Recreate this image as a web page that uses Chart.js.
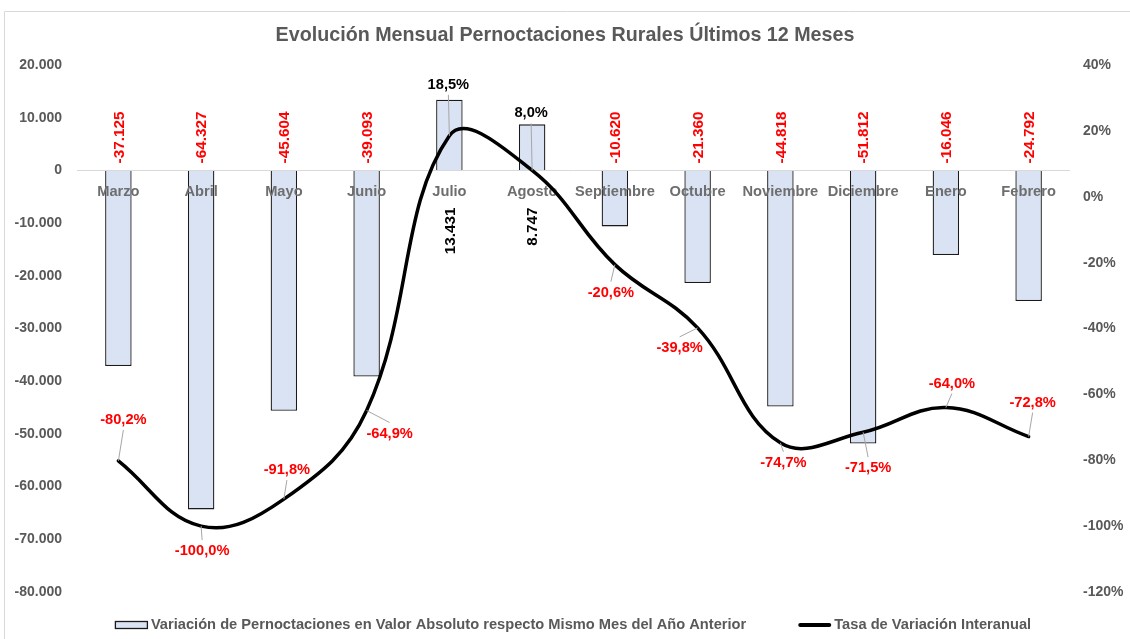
<!DOCTYPE html>
<html><head><meta charset="utf-8">
<script src="https://cdn.jsdelivr.net/npm/chart.js@4"></script>
<style>html,body{margin:0;padding:0;background:#fff}#wrap{width:1130px;height:639px}</style>
</head><body><div id="wrap"><canvas id="c" width="1130" height="639"></canvas></div>
<script>
const categories = ['Marzo','Abril','Mayo','Junio','Julio','Agosto','Septiembre','Octubre','Noviembre','Diciembre','Enero','Febrero'];
const absoluteVariation = [-37125,-64327,-45604,-39093,13431,8747,-10620,-21360,-44818,-51812,-16046,-24792];
const yearOnYearRate = [-80.2,-100.0,-91.8,-64.9,18.5,8.0,-20.6,-39.8,-74.7,-71.5,-64.0,-72.8];
const leftAxisRange = [-80000, 20000, 10000];
const rightAxisRange = [-120, 40, 20];
const seriesNames = ['Variación de Pernoctaciones en Valor Absoluto respecto Mismo Mes del Año Anterior','Tasa de Variación Interanual'];
const titleText = 'Evolución Mensual Pernoctaciones Rurales Últimos 12 Meses';
// label placement offsets in px (text centre relative to point)
const rateLabelOffsets = [[5,-41],[1,25],[3,-29],[23,23],[-1,-51],[-1,-57],[-4,28],[-18,20],[3,20],[5,36],[6,-24],[4,-34]];

const FONT = '"Liberation Sans", Arial, sans-serif';
const fmtInt = v => { const s = Math.abs(Math.round(v)).toString().replace(/\B(?=(\d{3})+(?!\d))/g,'.'); return (v<0?'-':'')+s; };
const fmtPct = v => v.toFixed(1).replace('.',',')+'%';

const decor = {
  id:'decor',
  beforeDraw(chart){
    const ctx=chart.ctx; ctx.save();
    ctx.fillStyle='#fff'; ctx.fillRect(0,0,chart.width,chart.height);
    ctx.strokeStyle='#d9d9d9'; ctx.lineWidth=1; ctx.beginPath();
    ctx.moveTo(4.5,chart.height); ctx.lineTo(4.5,11.5); ctx.lineTo(chart.width,11.5); ctx.stroke();
    ctx.restore();
  },
  afterDatasetDraw(chart,args){
    if(args.index!==0) return;
    const ctx=chart.ctx, x=chart.scales.x, y0=chart.scales.y.getPixelForValue(0);
    ctx.save(); ctx.font='bold 14.67px '+FONT; ctx.fillStyle='#6e6e6e';
    ctx.textAlign='center'; ctx.textBaseline='middle';
    categories.forEach((c,i)=>ctx.fillText(c, x.getPixelForValue(i), y0+22));
    ctx.restore();
  },
  afterDatasetsDraw(chart){
    const ctx=chart.ctx, x=chart.scales.x, y0=chart.scales.y.getPixelForValue(0);
    ctx.save();
    ctx.textBaseline='middle';
    ctx.font='bold 15.3px '+FONT;
    absoluteVariation.forEach((v,i)=>{
      const px=x.getPixelForValue(i);
      ctx.save();
      ctx.fillStyle = v<0 ? '#ff0000' : '#000000';
      if(v<0){ ctx.translate(px+1, y0-7); ctx.rotate(-Math.PI/2); ctx.textAlign='left'; }
      else { ctx.translate(px+1, y0+37); ctx.rotate(-Math.PI/2); ctx.textAlign='right'; }
      ctx.fillText(fmtInt(v),0,0);
      ctx.restore();
    });
    ctx.font='bold 14.67px '+FONT;
    const meta=chart.getDatasetMeta(1);
    meta.data.forEach((pt,i)=>{
      const [dx,dy]=rateLabelOffsets[i];
      const cx=pt.x+dx, cy=pt.y+dy;
      const ey = dy<0 ? cy+10 : cy-11;
      ctx.strokeStyle='#a6a6a6'; ctx.lineWidth=1;
      ctx.beginPath(); ctx.moveTo(pt.x,pt.y); ctx.lineTo(cx,ey); ctx.stroke();
    });
    meta.data.forEach((pt,i)=>{
      const v=yearOnYearRate[i], [dx,dy]=rateLabelOffsets[i];
      ctx.fillStyle = v<0 ? '#ff0000' : '#000000';
      ctx.textAlign='center';
      ctx.fillText(fmtPct(v), pt.x+dx, pt.y+dy);
    });
    ctx.restore();
  },
  afterDraw(chart){
    const ctx=chart.ctx; ctx.save();
    ctx.font='bold 14.67px '+FONT; ctx.textBaseline='middle'; ctx.textAlign='left';
    const w1=ctx.measureText(seriesNames[0]).width, w2=ctx.measureText(seriesNames[1]).width;
    const sw=33, gap=3, itemGap=52;
    const total=sw+gap+w1+itemGap+sw+gap+w2;
    let xx=573-total/2; const yy=625;
    ctx.fillStyle='#dae3f3'; ctx.strokeStyle='#1a1a1a'; ctx.lineWidth=1.3;
    ctx.fillRect(xx,yy-4,sw,8); ctx.strokeRect(xx+0.5,yy-3.5,sw-1,7);
    ctx.fillStyle='#595959'; ctx.fillText(seriesNames[0], xx+sw+gap, yy);
    xx += sw+gap+w1+itemGap;
    ctx.strokeStyle='#000'; ctx.lineWidth=4; ctx.lineCap='round';
    ctx.beginPath(); ctx.moveTo(xx+2,yy); ctx.lineTo(xx+sw-2,yy); ctx.stroke();
    ctx.fillStyle='#595959'; ctx.fillText(seriesNames[1], xx+sw+gap, yy);
    ctx.restore();
  }
};

new Chart(document.getElementById('c'), {
  type:'bar',
  data:{
    labels:categories,
    datasets:[
      {type:'bar', label:seriesNames[0], data:absoluteVariation, yAxisID:'y', order:2,
       backgroundColor:'#dae3f3', borderColor:'#1a1a1a', borderWidth:1.3,
       barPercentage:0.32, categoryPercentage:1.0},
      {type:'line', label:seriesNames[1], data:yearOnYearRate, yAxisID:'y1', order:1,
       borderColor:'#000', borderWidth:3.5, pointRadius:0, tension:0.4, fill:false,
       borderCapStyle:'round', borderJoinStyle:'round'}
    ]
  },
  options:{
    responsive:false, animation:false, devicePixelRatio:1,
    layout:{padding:{top:0,bottom:47,left:0,right:0}},
    plugins:{
      legend:{display:false}, tooltip:{enabled:false},
      title:{display:true, text:titleText, color:'#595959',
        font:{family:FONT, size:19.7, weight:'bold'}, padding:{top:24.2,bottom:17.2}}
    },
    scales:{
      x:{display:false, offset:true, grid:{display:false}},
      y:{position:'left', min:leftAxisRange[0], max:leftAxisRange[1],
        afterFit(s){s.width=77;},
        border:{display:false},
        grid:{drawTicks:false, lineWidth:1, color:c=>(c.tick && c.tick.value===0)?'#d9d9d9':'rgba(0,0,0,0)'},
        ticks:{stepSize:leftAxisRange[2], padding:15, color:'#595959', font:{family:FONT,size:14,weight:'bold'}, callback:v=>fmtInt(v)}},
      y1:{position:'right', min:rightAxisRange[0], max:rightAxisRange[1],
        afterFit(s){s.width=60;},
        border:{display:false}, grid:{display:false, drawTicks:false},
        ticks:{stepSize:rightAxisRange[2], padding:13, color:'#595959', font:{family:FONT,size:14,weight:'bold'}, callback:v=>v+'%'}}
    }
  },
  plugins:[decor]
});
</script></body></html>
